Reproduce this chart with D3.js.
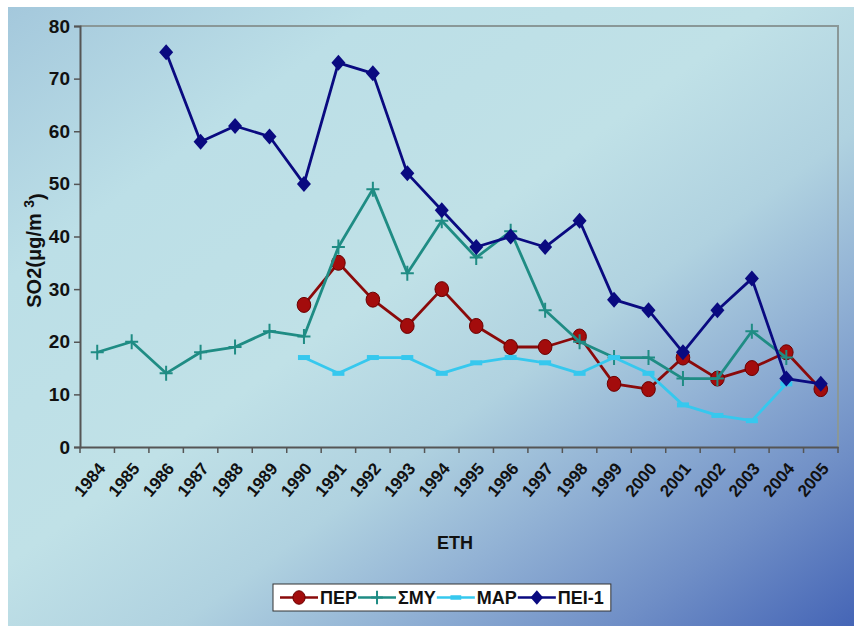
<!DOCTYPE html>
<html><head><meta charset="utf-8">
<script src="https://cdn.jsdelivr.net/npm/d3@7"></script>
<style>html,body{margin:0;padding:0;background:#fff;}svg{display:block;}</style>
</head><body>
<svg id="c" width="854" height="626"></svg>
<script>
const years = ["1984","1985","1986","1987","1988","1989","1990","1991","1992","1993","1994","1995","1996","1997","1998","1999","2000","2001","2002","2003","2004","2005"];
const per   = [null,null,null,null,null,null,27,35,28,23,30,23,19,19,21,12,11,17,13,15,18,11];
const smy   = [18,20,14,18,19,22,21,38,49,33,43,36,41,26,20,17,17,13,13,22,17,null];
const mar   = [null,null,null,null,null,null,17,14,17,17,14,16,17,16,14,17,14,8,6,5,12,null];
const pei   = [null,null,75,58,61,59,50,73,71,52,45,38,40,38,43,28,26,18,26,32,13,12];
const yTicks = [0,10,20,30,40,50,60,70,80];
const seriesNames = ["ΠΕΡ","ΣΜΥ","ΜΑΡ","ΠΕΙ-1"];

const series = [
  {name: seriesNames[0], values: per, color: "#8a0a0a", fill:"#a30c0c", marker: "circle"},
  {name: seriesNames[1], values: smy, color: "#1f8c84", fill:"#1f8c84", marker: "cross"},
  {name: seriesNames[2], values: mar, color: "#36c8ee", fill:"#36c8ee", marker: "dash"},
  {name: seriesNames[3], values: pei, color: "#0a0a80", fill:"#0a0a80", marker: "diamond"}
];

const svg = d3.select("#c");
const W = 854, H = 626;
const defs = svg.append("defs");
const g = defs.append("linearGradient").attr("id","bg").attr("x1","0").attr("y1","0").attr("x2","1").attr("y2","1");
[[0,"#a4c8dc"],[0.22,"#bcdfe7"],[0.45,"#c0e1e7"],[0.6,"#b0d2e0"],[0.72,"#93b3d5"],[0.86,"#6f8ec6"],[1,"#4565b6"]]
  .forEach(([o,c])=>g.append("stop").attr("offset",o).attr("stop-color",c));
svg.append("rect").attr("x",0).attr("y",0).attr("width",W).attr("height",H).attr("fill","#fff");
svg.append("rect").attr("x",8).attr("y",7).attr("width",W-8).attr("height",H-7).attr("fill","url(#bg)");

const L = 80, R = 838, T = 26, B = 447;
const x = d3.scaleBand().domain(years).range([L,R]);
const y = d3.scaleLinear().domain([0,80]).range([B,T]);
const font = "'Liberation Sans', Arial, sans-serif";

// plot border top/right
svg.append("path").attr("d",`M${L},${T}H${R}V${B}`).attr("fill","none").attr("stroke","#8a9898").attr("stroke-width",2);

// y axis
const yAx = svg.append("g").attr("transform",`translate(${L},0)`)
  .call(d3.axisLeft(y).tickValues(yTicks).tickSize(6).tickPadding(4).tickFormat(d3.format("d")));
yAx.select(".domain").attr("stroke","#555").attr("stroke-width",2);
yAx.selectAll(".tick line").attr("stroke","#555").attr("stroke-width",1.5);
yAx.selectAll("text").attr("font-family",font).attr("font-weight","bold").attr("font-size",19).attr("fill","#111");

// x axis
const xAx = svg.append("g").attr("transform",`translate(0,${B})`)
  .call(d3.axisBottom(x).tickSize(0).tickFormat(""));
xAx.select(".domain").attr("stroke","#555").attr("stroke-width",2);
const bounds = years.map(d=>x(d)).concat([R]);
xAx.selectAll(".bt").data(bounds).enter().append("line").attr("class","bt")
  .attr("x1",d=>d).attr("x2",d=>d).attr("y1",0).attr("y2",6).attr("stroke","#555").attr("stroke-width",1.5);
xAx.selectAll(".lbl").data(years).enter().append("text").attr("class","lbl")
  .attr("transform",d=>`translate(${x(d)+x.bandwidth()/2+9},${22}) rotate(-50)`)
  .attr("text-anchor","end")
  .attr("font-family",font).attr("font-weight","bold").attr("font-size",17).attr("fill","#111")
  .text(d=>d);

// axis titles
svg.append("text").attr("x",455).attr("y",549).attr("text-anchor","middle")
  .attr("font-family",font).attr("font-weight","bold").attr("font-size",18).attr("fill","#111").text("ETH");
const yt = svg.append("text").attr("transform",`translate(41,${(T+B)/2+14}) rotate(-90)`).attr("text-anchor","middle")
  .attr("font-family",font).attr("font-weight","bold").attr("font-size",20).attr("fill","#111");
yt.append("tspan").text("SO2(μg/m ");
yt.append("tspan").attr("dy","-0.5em").attr("font-size",14).text("3");
yt.append("tspan").attr("dy","0.5em").text(")");

function drawMarker(sel, s, cx, cy, scale){
  scale = scale||1;
  if(s.marker==="circle"){
    sel.append("ellipse").attr("cx",cx).attr("cy",cy).attr("rx",6.8*scale).attr("ry",7.5*scale).attr("fill",s.fill).attr("stroke","#6a0000").attr("stroke-width",1);
  } else if(s.marker==="cross"){
    const r=6.5*scale;
    sel.append("path").attr("d",`M${cx-r},${cy}H${cx+r}M${cx},${cy-r-1}V${cy+r+1}`).attr("stroke",s.color).attr("stroke-width",2);
  } else if(s.marker==="dash"){
    sel.append("rect").attr("x",cx-6*scale).attr("y",cy-2.5*scale).attr("width",12*scale).attr("height",5*scale).attr("fill",s.fill);
  } else if(s.marker==="diamond"){
    const r=7*scale;
    sel.append("path").attr("d",`M${cx},${cy-r-1}L${cx+r},${cy}L${cx},${cy+r+1}L${cx-r},${cy}Z`).attr("fill",s.fill);
  }
}

const cxOf = i => x(years[i]) + x.bandwidth()/2;
const line = d3.line().defined(d=>d.v!=null).x(d=>cxOf(d.i)).y(d=>y(d.v));
series.forEach(s=>{
  const pts = s.values.map((v,i)=>({v,i}));
  const gS = svg.append("g");
  gS.append("path").attr("d",line(pts)).attr("fill","none").attr("stroke",s.color).attr("stroke-width",2.8).attr("stroke-linejoin","round");
  pts.filter(p=>p.v!=null).forEach(p=>drawMarker(gS,s,cxOf(p.i),y(p.v)));
});

// legend (sequential layout)
const lg = svg.append("g");
const box = lg.append("rect").attr("x",273).attr("y",584).attr("height",27).attr("fill","#fff").attr("stroke","#333").attr("stroke-width",1);
let cursor = 280;
const cyL = 597.5;
series.forEach((s,i)=>{
  lg.append("line").attr("x1",cursor).attr("x2",cursor+38).attr("y1",cyL).attr("y2",cyL).attr("stroke",s.color).attr("stroke-width",2.6);
  drawMarker(lg,s,cursor+19,cyL,0.9);
  const t = lg.append("text").attr("x",cursor+40).attr("y",cyL+6.5).attr("font-family",font).attr("font-weight","bold").attr("font-size",18).attr("fill","#111").text(s.name);
  cursor += 40 + t.node().getComputedTextLength() + 1;
});
box.attr("width", cursor + 6 - 273);
</script>
</body></html>
